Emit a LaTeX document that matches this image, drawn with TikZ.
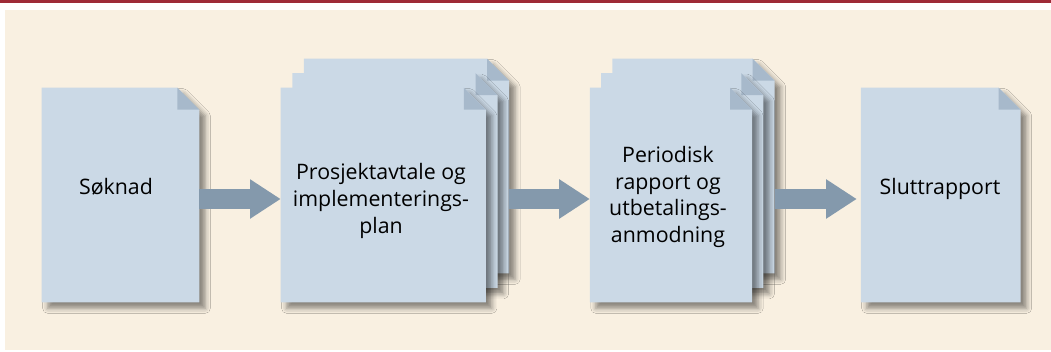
\documentclass[tikz,border=0pt]{standalone}
\usepackage{fontspec}
\setmainfont{Open Sans}
\usetikzlibrary{arrows.meta, shadows.blur}

\definecolor{paper}{HTML}{F9F0E1}
\definecolor{rule}{HTML}{9E2A37}
\definecolor{sheet}{HTML}{CBD9E6}
\definecolor{fold}{HTML}{A7B9CB}
\definecolor{flow}{HTML}{8499AC}

\newcommand\drawsheet[1]{%
  \fill[sheet, blur shadow={shadow xshift=4.5pt, shadow yshift=-4.5pt,
      shadow blur radius=3.8pt, shadow opacity=45}]
    (#1.south west) |- ([xshift=-16.5pt]#1.north east)
    -- ([yshift=-16.5pt]#1.north east) |- cycle;
  \fill[fold] ([xshift=-16.5pt]#1.north east) |-
    ([yshift=-16.5pt]#1.north east) -- cycle;}

\tikzset{
  page/.style={rectangle, inner sep=0pt, minimum height=160.5pt},
  caption/.style={align=center, inner sep=0pt,
    font=\fontsize{16}{20}\selectfont},
  flowarrow/.style={draw=flow, line width=15pt,
    -{Triangle[length=23pt, width=28pt]}}
}

\begin{document}
\begin{tikzpicture}[x=0.75pt, y=-0.75pt]
      \useasboundingbox (0,0) rectangle (1051,351);
      \fill[rule] (0,0) rectangle (1051,2.5);
      \fill[paper] (5,10) rectangle (1051,350);

      \coordinate (flowline) at (0,199);

      \node[page, minimum width=117.75pt] (soknad) at (120.5,195) {};
      \drawsheet{soknad}
      \node[caption] (soknadtxt) at (116,187) {Søknad};

      \node[page, minimum width=153.5pt] (avtale3) at (406.5,166) {};
      \drawsheet{avtale3}
      \node[page, minimum width=153.5pt] (avtale2) at (395,180.5) {};
      \drawsheet{avtale2}
      \node[page, minimum width=153.5pt] (avtale) at (383.3,195) {};
      \drawsheet{avtale}
      \node[caption] (avtaletxt) at (381,201)
        {Prosjektavtale og\\implementerings-\\plan};

      \node[page, minimum width=121.3pt] (periodisk3) at (693.5,166) {};
      \drawsheet{periodisk3}
      \node[page, minimum width=121.3pt] (periodisk2) at (682.3,180.5) {};
      \drawsheet{periodisk2}
      \node[page, minimum width=121.3pt] (periodisk) at (671,195) {};
      \drawsheet{periodisk}
      \node[caption] (periodisktxt) at (668,197)
        {Periodisk\\rapport og\\utbetalings-\\anmodning};

      \node[page, minimum width=119.5pt] (slutt) at (940.7,195) {};
      \drawsheet{slutt}
      \node[caption] (slutttxt) at (940,188.5) {Sluttrapport};

      \draw[flowarrow] (soknad.east |- flowline) -- (avtale.west |- flowline);
      \draw[flowarrow] (avtale3.east |- flowline) -- (periodisk.west |- flowline);
      \draw[flowarrow, shorten >=3pt] (periodisk3.east |- flowline) -- (slutt.west |- flowline);

    \end{tikzpicture}
\end{document}
